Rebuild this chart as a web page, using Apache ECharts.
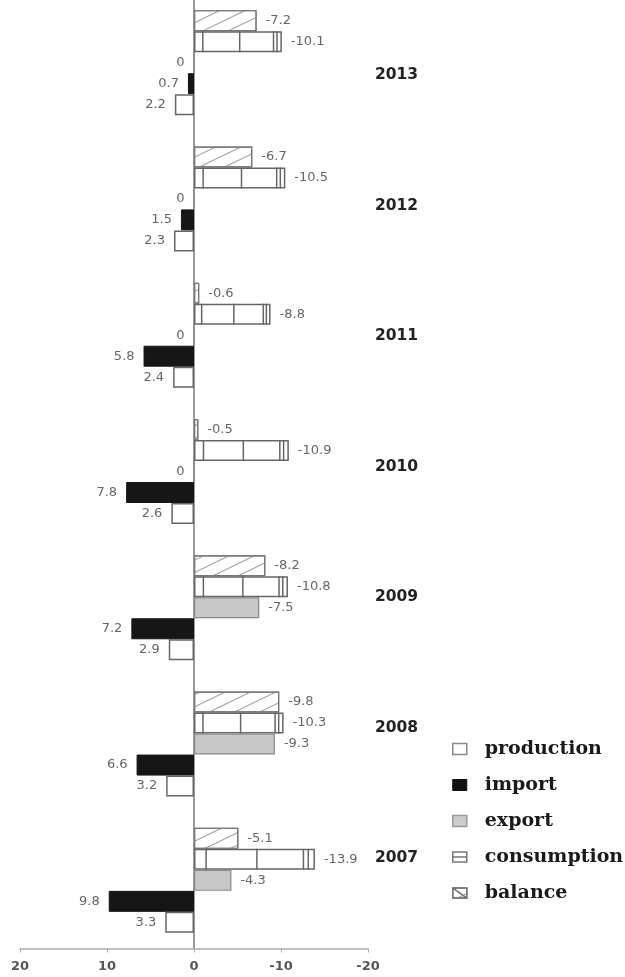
<!DOCTYPE html>
<html>
<head>
<meta charset="utf-8">
<script src="https://cdn.jsdelivr.net/npm/echarts@6/dist/echarts.min.js"></script>
<style>html,body{margin:0;padding:0;background:#fff;overflow:hidden}#c{width:625px;height:983px;margin-top:-6px}</style>
</head>
<body>
<div id="c"></div>
<script>
const years = ['2007', '2008', '2009', '2010', '2011', '2012', '2013'];
const production = [3.3, 3.2, 2.9, 2.6, 2.4, 2.3, 2.2];
const importVals = [9.8, 6.6, 7.2, 7.8, 5.8, 1.5, 0.7];
const exportVals = [-4.3, -9.3, -7.5, 0, 0, 0, 0];
const consumption = [-13.9, -10.3, -10.8, -10.9, -8.8, -10.5, -10.1];
const balance = [-5.1, -9.8, -8.2, -0.5, -0.6, -6.7, -7.2];
const seriesNames = ['production', 'import', 'export', 'consumption', 'balance'];

const BAR_W = 21;
const DIVIDERS = [0.1, 0.52, 0.905, 0.945];
const labelBase = { show: true, color: '#666', fontSize: 13, fontFamily: 'DejaVu Sans', distance: 9 };
function items(arr) {
  return arr.map(v => ({ value: v, label: { position: v >= 0 ? 'left' : 'right' } }));
}

const chart = echarts.init(document.getElementById('c'), null, { renderer: 'canvas' });
chart.setOption({
  backgroundColor: '#fff',
  animation: false,
  grid: [
    { left: 20, right: 257, top: 0.5, bottom: 28.5 },
    { left: 20, right: 255, top: 15.75, bottom: 53.75 }
  ],
  xAxis: [
    {
      type: 'value', inverse: true, min: -20, max: 20, interval: 10,
      axisLine: { show: true, lineStyle: { color: '#aaa', width: 1.5 } },
      axisTick: { show: true, length: 4, lineStyle: { color: '#aaa' } },
      splitLine: { show: false },
      axisLabel: { color: '#555', fontSize: 13, fontWeight: 'bold', fontFamily: 'DejaVu Sans', margin: 12 }
    },
    { type: 'value', gridIndex: 1, show: false, min: -20, max: 20 }
  ],
  yAxis: [
    {
      type: 'category', data: years,
      axisLine: { show: true, lineStyle: { color: '#777', width: 1.5 } },
      axisTick: { show: false }, axisLabel: { show: false }
    },
    {
      type: 'category', data: years, gridIndex: 1, position: 'right',
      axisLine: { show: false }, axisTick: { show: false },
      axisLabel: { color: '#222', fontSize: 15.5, fontWeight: 'bold', fontFamily: 'DejaVu Sans', margin: 5 }
    }
  ],
  legend: {
    orient: 'vertical', left: 447, top: 740, itemGap: 16, itemWidth: 14, itemHeight: 11,
    textStyle: { fontFamily: 'DejaVu Serif', fontWeight: 'bold', fontSize: 19, color: '#1a1a1a', lineHeight: 20, padding: [0, 0, 0, 13] },
    data: [
      { name: 'production', icon: 'rect', itemStyle: { color: '#fff', borderColor: '#888', borderWidth: 1.5 } },
      { name: 'import', icon: 'rect', itemStyle: { color: '#111', borderColor: '#111', borderWidth: 1 } },
      { name: 'export', icon: 'rect', itemStyle: { color: '#ccc', borderColor: '#999', borderWidth: 1.5 } },
      { name: 'consumption', icon: 'path://M0,0H14V10H0Z M0,5H14', itemStyle: { color: '#fff', borderColor: '#777', borderWidth: 1.5 } },
      { name: 'balance', icon: 'path://M0,0H14V10H0Z M0,0L14,10', itemStyle: { color: '#fff', borderColor: '#777', borderWidth: 1.5, decal: null } }
    ]
  },
  series: [
    {
      name: 'balance', type: 'bar', barWidth: BAR_W, barGap: '0%', data: items(balance),
      itemStyle: {
        color: '#fff', borderColor: '#777', borderWidth: 1.2,
        decal: { symbol: 'rect', symbolSize: 1, color: '#999', dashArrayX: [1, 0], dashArrayY: [1, 10], rotation: -0.45 }
      },
      label: labelBase
    },
    {
      name: 'consumption', type: 'bar', barWidth: BAR_W, barGap: '0%', data: items(consumption),
      itemStyle: { color: '#fff', borderColor: '#666', borderWidth: 1.5 },
      label: labelBase
    },
    {
      name: 'export', type: 'bar', barWidth: BAR_W, barGap: '0%', data: items(exportVals),
      itemStyle: { color: '#c8c8c8', borderColor: '#888', borderWidth: 1.2 },
      label: labelBase
    },
    {
      name: 'import', type: 'bar', barWidth: BAR_W, barGap: '0%', data: items(importVals),
      itemStyle: { color: '#161616', borderColor: '#161616', borderWidth: 1 },
      label: labelBase
    },
    {
      name: 'production', type: 'bar', barWidth: BAR_W, barGap: '0%', data: items(production),
      itemStyle: { color: '#fff', borderColor: '#666', borderWidth: 1.5 },
      label: labelBase
    },
    {
      name: 'consumption-dividers', type: 'custom', silent: true, z: 3,
      data: consumption.map((v, i) => [v, i]),
      encode: { x: 0, y: 1 },
      renderItem: function (params, api) {
        const v = api.value(0), idx = api.value(1);
        const p0 = api.coord([0, idx]);
        const p1 = api.coord([v, idx]);
        const cy = p0[1] - BAR_W;
        const children = DIVIDERS.map(f => {
          const x = p0[0] + f * (p1[0] - p0[0]);
          return { type: 'line', shape: { x1: x, y1: cy - BAR_W / 2, x2: x, y2: cy + BAR_W / 2 }, style: { stroke: '#666', lineWidth: 1.5 } };
        });
        return { type: 'group', children: children };
      }
    }
  ]
});
</script>
</body>
</html>
